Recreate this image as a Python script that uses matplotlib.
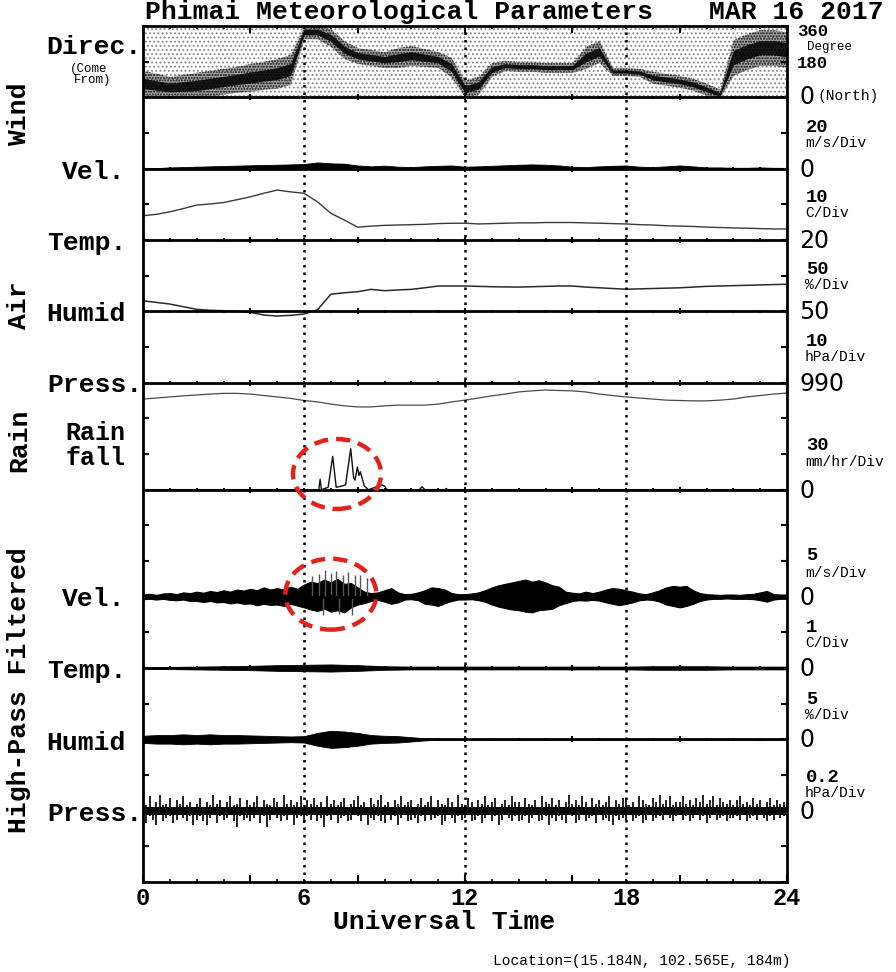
import numpy as np
import matplotlib
matplotlib.use("Agg")
import matplotlib.pyplot as plt
from matplotlib.patches import Ellipse

# ---------------- data ----------------
hours_half = np.arange(0, 24.01, 0.5)          # 0.5-h sampling grid
hours_qtr = np.arange(0, 24.01, 0.25)          # 0.25-h sampling grid
hours_eighth = np.arange(0, 24.01, 0.125)      # 0.125-h sampling grid
hours_one = np.arange(0, 25, 1)                # 1-h sampling grid

# Wind direction: centre of dense band and its half-width (deg), 0.5 h steps
dir_center = [70, 60, 50, 55, 60, 70, 80, 90, 100, 110, 120, 140,
              330, 330, 300, 240, 210, 200, 190, 200, 210, 200, 190, 150,
              40, 60, 140, 160, 155, 155, 150, 150, 150, 200, 230, 130,
              130, 125, 100, 90, 80, 65, 40, 15, 200, 230, 250, 250, 240]
dir_spread = [65, 60, 55, 60, 65, 65, 65, 65, 70, 70, 75, 75,
              35, 35, 45, 45, 40, 40, 40, 50, 50, 45, 40, 50,
              45, 45, 35, 25, 25, 25, 25, 25, 25, 55, 55, 20,
              20, 20, 30, 30, 30, 30, 30, 25, 90, 90, 90, 90, 90]

# Wind velocity envelope (m/s), 0.5 h steps
wind_vel = [0.3, 0.3, 0.7, 0.9, 1.1, 1.3, 1.5, 1.7, 1.9, 2.1, 2.2, 2.4,
            2.6, 3.5, 3.0, 2.8, 1.8, 1.3, 1.7, 1.1, 0.9, 1.3, 1.6, 1.8,
            1.1, 1.3, 1.6, 1.9, 2.2, 2.4, 2.2, 1.8, 1.1, 0.9, 1.3, 1.6,
            1.8, 1.1, 0.9, 1.3, 1.8, 1.3, 0.7, 0.7, 0.5, 0.5, 0.7, 0.5, 0.4]

# Air temperature (C), 0.5 h steps
air_temp = [26.8, 27.2, 27.9, 28.8, 29.8, 30.1, 30.5, 31.3, 32.1, 33.1, 34.0, 33.5,
            33.1, 30.7, 27.5, 25.6, 23.6, 23.9, 24.1, 24.2, 24.3, 24.4, 24.6, 24.7,
            24.7, 24.5, 24.6, 24.7, 24.8, 24.8, 24.9, 24.9, 24.9, 24.8, 24.7, 24.6,
            24.5, 24.3, 24.2, 24.0, 23.9, 23.8, 23.6, 23.5, 23.4, 23.3, 23.2, 23.1, 23.1]

# Relative humidity (%), 0.5 h steps
air_humid = [64.8, 62.5, 60.2, 56.5, 52.8, 51.5, 50.9, 50.0, 48.6, 44.8, 43.4, 44.4,
             46.2, 52.0, 74.0, 76.0, 77.5, 80.8, 78.9, 80.0, 80.8, 83.0, 85.5, 85.5,
             85.5, 85.0, 84.5, 84.2, 84.0, 84.5, 85.0, 85.5, 85.5, 84.0, 83.0, 82.0,
             81.0, 81.5, 82.0, 82.5, 83.0, 84.0, 85.0, 85.5, 86.0, 86.5, 87.0, 87.5, 88.0]

# Pressure (hPa), 0.5 h steps
air_press = [985.4, 985.7, 986.0, 986.3, 986.55, 986.8, 987.0, 987.0, 986.8, 986.4, 986.0, 985.6,
             985.0, 984.6, 984.0, 983.5, 983.2, 983.2, 983.5, 983.7, 983.7, 983.7, 984.0, 984.6,
             985.1, 985.7, 986.3, 986.8, 987.4, 987.7, 987.95, 987.8, 987.7, 987.4, 986.8, 986.4,
             986.0, 985.7, 985.4, 985.1, 985.0, 984.9, 984.9, 985.1, 985.4, 986.0, 986.4, 986.8, 987.1]

# Rainfall (mm/hr)
rain_t = [0.0, 6.3, 6.55, 6.6, 6.65, 6.9, 7.07, 7.2, 7.4, 7.55, 7.74, 7.85, 7.9, 7.99,
          8.05, 8.1, 8.25, 8.4, 8.8, 8.9, 9.0, 9.1, 10.3, 10.4, 10.5, 11.25, 11.3, 11.35, 24.0]
rain_v = [0, 0, 0, 8.7, 0, 2, 28, 2, 3, 4, 34.5, 10, 8, 19,
          12, 15, 3, 0, 3, 4, 3, 0, 0, 2.5, 0, 0, 1, 0, 0]

# High-pass filtered velocity: upper / lower excursions (m/s), 0.25 h steps
hp_vel_up = [0.3, 0.4, 0.25, 0.45, 0.5, 0.35, 0.6, 0.5, 0.7, 0.55, 0.8, 0.65,
             0.9, 0.7, 1.0, 0.85, 1.1, 0.9, 1.3, 1.0, 1.2, 1.0, 1.4, 1.1,
             1.7, 2.1, 1.9, 2.4, 2.0, 2.5, 1.8, 1.9, 1.3, 0.7, 0.5, 0.6,
             0.9, 1.2, 0.6, 0.35, 0.4, 0.6, 0.9, 1.3, 1.2, 1.0, 0.5, 0.35,
             0.35, 0.45, 0.6, 0.9, 1.3, 1.6, 1.8, 2.0, 2.2, 2.4, 2.1, 2.3,
             2.0, 1.6, 1.4, 0.7, 0.55, 0.45, 0.7, 0.5, 0.7, 1.0, 1.2, 1.1,
             0.9, 0.7, 0.45, 0.35, 0.6, 0.9, 1.3, 1.5, 1.4, 1.5, 0.9, 0.5,
             0.35, 0.3, 0.25, 0.3, 0.3, 0.25, 0.35, 0.4, 0.6, 0.8, 0.35, 0.3, 0.3]
hp_vel_dn = [0.35, 0.3, 0.4, 0.3, 0.45, 0.5, 0.4, 0.6, 0.6, 0.75, 0.6, 0.8,
             0.75, 0.95, 0.8, 1.0, 0.95, 1.2, 1.0, 1.15, 1.1, 1.3, 1.0, 1.25,
             1.5, 1.8, 2.0, 1.7, 2.1, 1.9, 2.2, 1.5, 1.1, 0.9, 0.6, 0.45,
             0.7, 1.0, 0.8, 0.4, 0.35, 0.5, 1.0, 1.1, 1.3, 0.9, 0.6, 0.4,
             0.4, 0.35, 0.5, 0.7, 1.1, 1.4, 1.6, 1.8, 1.9, 2.1, 2.2, 1.9,
             1.8, 1.7, 1.2, 0.9, 0.6, 0.5, 0.55, 0.45, 0.55, 0.8, 1.0, 1.2,
             1.0, 0.8, 0.5, 0.4, 0.45, 0.7, 1.1, 1.3, 1.5, 1.3, 1.0, 0.6,
             0.4, 0.3, 0.3, 0.25, 0.3, 0.3, 0.3, 0.35, 0.5, 0.7, 0.4, 0.3, 0.3]
hp_vel_spike_t = [6.3, 6.55, 6.7, 6.8, 7.0, 7.2, 7.3, 7.45, 7.65, 7.8, 7.9, 8.1, 8.35]
hp_vel_spike_v = [2.9, 3.2, -2.5, 3.8, 3.3, 3.6, -2.4, 3.0, 3.5, -2.6, 3.0, 3.1, 2.6]

# High-pass filtered temperature envelope (C), 1 h steps
hp_temp = [0.03, 0.03, 0.04, 0.05, 0.06, 0.08, 0.09, 0.10, 0.08, 0.05, 0.04, 0.04, 0.04,
           0.04, 0.04, 0.04, 0.04, 0.04, 0.04, 0.05, 0.05, 0.05, 0.04, 0.04, 0.04]

# High-pass filtered humidity envelope (%), 0.5 h steps
hp_humid = [0.5, 0.6, 0.6, 0.7, 0.6, 0.7, 0.6, 0.6, 0.55, 0.5, 0.45, 0.4,
            0.45, 0.9, 1.2, 1.1, 0.9, 0.6, 0.5, 0.45, 0.3, 0.15, 0.06, 0.06,
            0.06, 0.06, 0.06, 0.06, 0.06, 0.06, 0.06, 0.06, 0.06, 0.06, 0.06, 0.06,
            0.06, 0.06, 0.06, 0.06, 0.06, 0.06, 0.06, 0.06, 0.06, 0.06, 0.06, 0.06, 0.06]

# High-pass filtered pressure spikes (hPa), 0.125 h steps (upward / downward)
hp_press_up = [
    .06, .03, .08, .02, .05, .09, .03, .04, .07, .02, .06, .04, .08, .03, .05, .02,
    .04, .07, .02, .05, .03, .09, .04, .06, .02, .05, .08, .03, .04, .07, .02, .06,
    .03, .05, .08, .02, .06, .04, .03, .07, .05, .02, .09, .04, .06, .03, .05, .08,
    .02, .06, .04, .07, .03, .05, .02, .08, .04, .06, .03, .05, .07, .02, .04, .06,
    .08, .03, .05, .02, .07, .04, .06, .09, .03, .05, .02, .06, .04, .08, .03, .05,
    .06, .02, .04, .07, .03, .05, .08, .02, .06, .04, .03, .07, .05, .02, .09, .04,
    .03, .07, .05, .02, .06, .04, .08, .03, .05, .07, .02, .04, .06, .03, .08, .05,
    .05, .02, .07, .04, .03, .06, .02, .08, .05, .04, .07, .03, .06, .02, .05, .09,
    .04, .06, .03, .08, .05, .02, .07, .04, .06, .03, .05, .08, .02, .06, .04, .07,
    .07, .03, .05, .02, .08, .06, .04, .03, .07, .05, .09, .04, .06, .08, .03, .05,
    .05, .08, .04, .06, .03, .07, .05, .09, .04, .06, .08, .03, .07, .05, .04, .06,
    .03, .06, .08, .04, .05, .03, .07, .04, .06, .02, .05, .07, .03, .06, .04, .05,
    .04]
hp_press_dn = [
    .04, .07, .03, .05, .08, .02, .06, .04, .03, .07, .05, .02, .04, .06, .03, .08,
    .05, .03, .06, .08, .04, .02, .07, .03, .05, .04, .02, .06, .09, .03, .05, .04,
    .06, .04, .02, .07, .03, .09, .05, .02, .04, .06, .03, .05, .02, .08, .04, .03,
    .07, .03, .05, .02, .06, .04, .09, .03, .05, .02, .07, .04, .03, .06, .05, .02,
    .03, .06, .02, .08, .04, .05, .03, .06, .07, .02, .05, .03, .08, .04, .02, .06,
    .05, .04, .07, .03, .06, .02, .05, .04, .03, .08, .06, .02, .04, .07, .03, .05,
    .04, .02, .06, .05, .03, .07, .04, .02, .06, .03, .08, .05, .02, .04, .06, .03,
    .06, .05, .03, .07, .04, .02, .06, .05, .03, .08, .04, .06, .03, .05, .07, .02,
    .03, .07, .05, .02, .06, .04, .03, .07, .02, .05, .04, .06, .08, .03, .05, .04,
    .05, .02, .06, .04, .03, .07, .05, .02, .06, .04, .03, .05, .02, .04, .06, .03,
    .02, .05, .03, .06, .04, .02, .05, .03, .07, .04, .02, .05, .04, .03, .06, .04,
    .04, .03, .05, .02, .06, .04, .03, .05, .02, .04, .06, .03, .05, .02, .04, .03,
    .03]
hp_press_core = 0.022

# panel definitions: (baseline position in divisions, baseline value, units per division)
panels = {
    "dir": (22, 0.0, 180.0),
    "vel": (20, 0.0, 20.0),
    "temp": (18, 20.0, 10.0),
    "humid": (16, 50.0, 50.0),
    "press": (14, 990.0, 10.0),
    "rain": (11, 0.0, 30.0),
    "hpvel": (8, 0.0, 5.0),
    "hptemp": (6, 0.0, 1.0),
    "hphumid": (4, 0.0, 5.0),
    "hppress": (2, 0.0, 0.2),
}


def tr(name, v):
    b, v0, s = panels[name]
    return b + (np.asarray(v, dtype=float) - v0) / s


# ---------------- figure ----------------
W, H = 896, 972
fig = plt.figure(figsize=(W / 100, H / 100), dpi=100)
L, R, T, B = 143, 787, 26, 882
ax = fig.add_axes([L / W, 1 - B / H, (R - L) / W, (B - T) / H])
ax.set_xlim(0, 24)
ax.set_ylim(0, 24)

MONO = ["Liberation Mono", "DejaVu Sans Mono"]
SANS = ["DejaVu Sans"]

# wind direction: background stipple and dense band
plt.rcParams["hatch.linewidth"] = 0.9
ax.fill_between([0, 24], [22, 22], [24, 24], facecolor="none", edgecolor="#8c8c8c",
                hatch="....", linewidth=0)
dc = np.asarray(dir_center, float)
ds = np.asarray(dir_spread, float)
ax.fill_between(hours_half, tr("dir", np.clip(dc - ds, 0, 360)),
                tr("dir", np.clip(dc + ds, 0, 360)), color="black", alpha=0.35, linewidth=0)
ax.fill_between(hours_half, tr("dir", np.clip(dc - ds, 0, 360)),
                tr("dir", np.clip(dc + ds, 0, 360)), facecolor="none", edgecolor="#1a1a1a",
                hatch="......", linewidth=0)
ax.fill_between(hours_half, tr("dir", np.clip(dc - ds * 0.4, 0, 360)),
                tr("dir", np.clip(dc + ds * 0.4, 0, 360)), color="black", alpha=0.85,
                linewidth=0)

# wind velocity
ax.fill_between(hours_half, tr("vel", 0), tr("vel", wind_vel), color="black", linewidth=0.6,
                edgecolor="black")

# air temperature / humidity / pressure
ax.plot(hours_half, tr("temp", air_temp), color="#3a3a3a", lw=1.0)
ax.plot(hours_half, tr("humid", air_humid), color="#2a2a2a", lw=1.1)
ax.plot(hours_half, tr("press", air_press), color="#4a4a4a", lw=0.9)

# rain
ax.plot(rain_t, tr("rain", rain_v), color="#111111", lw=1.0)

# high-pass velocity
hvu = np.asarray(hp_vel_up, float)
hvd = np.asarray(hp_vel_dn, float)
ax.fill_between(hours_qtr, tr("hpvel", -hvd), tr("hpvel", hvu), color="black",
                linewidth=0.8, edgecolor="black")
ax.vlines(hp_vel_spike_t, tr("hpvel", 0), tr("hpvel", hp_vel_spike_v), color="#555555", lw=1.0)

# high-pass temperature
htv = np.asarray(hp_temp, float)
ax.fill_between(hours_one, tr("hptemp", -htv), tr("hptemp", htv), color="black", linewidth=0.6,
                edgecolor="black")

# high-pass humidity
hh = np.asarray(hp_humid, float)
ax.fill_between(hours_half, tr("hphumid", -hh), tr("hphumid", hh), color="black", linewidth=0.6,
                edgecolor="black")

# high-pass pressure
up = np.asarray(hp_press_up, float)
dn = np.asarray(hp_press_dn, float)
ax.vlines(hours_eighth, tr("hppress", -dn), tr("hppress", up), color="#111111", lw=1.3)
ax.fill_between([0, 24], tr("hppress", -hp_press_core), tr("hppress", hp_press_core),
                color="black", linewidth=0)

# baselines with crossing hour ticks
for name in panels:
    b = panels[name][0]
    ax.axhline(b, color="black", lw=2.0, zorder=5)
    for h in range(1, 24):
        d = 0.085 if h % 4 == 0 else 0.045
        ax.plot([h, h], [b - d, b + d], color="black", lw=1.5, zorder=5,
                solid_capstyle="butt")

# dotted verticals
for h in (6, 12, 18):
    ax.axvline(h, color="black", lw=1.8, ls=(0, (1.0, 2.0)), zorder=6)

# red dashed ellipses (annotation marks)
for (cx, cy, w, hgt) in [(7.23, 11.44, 3.28, 1.96), (7.0, 8.07, 3.39, 1.99)]:
    ax.add_patch(Ellipse((cx, cy), w, hgt, fill=False, edgecolor="#e3221c", lw=3.2,
                         ls=(0, (3.2, 1.8)), zorder=7))

# axes styling
for sp in ax.spines.values():
    sp.set_linewidth(2.0)
    sp.set_zorder(8)
ax.set_yticks(np.arange(0, 25, 1))
ax.set_yticklabels([])
ax.tick_params(axis="y", which="both", direction="in", left=True, right=True, length=4,
               width=1.5)
ax.set_xticks([0, 4, 8, 12, 16, 20, 24])
ax.set_xticks(np.arange(0, 25, 1), minor=True)
ax.set_xticklabels([])
ax.tick_params(axis="x", which="major", direction="in", top=True, bottom=True, length=5,
               width=1.5)
ax.tick_params(axis="x", which="minor", direction="in", top=True, bottom=True, length=2.5,
               width=1.2)


def ftext(x, y, s, **kw):
    fig.text(x / W, 1 - y / H, s, **kw)


# title
ftext(145, 12, "Phimai Meteorological Parameters", family=MONO, weight="bold", fontsize=19,
      va="center", ha="left")
ftext(884, 12, "MAR 16 2017", family=MONO, weight="bold", fontsize=19, va="center", ha="right")

# left labels
lab = dict(family=MONO, weight="bold", fontsize=19, va="center", ha="left")
ftext(46, 47, "Direc.", **lab)
ftext(70, 69, "(Come", family=MONO, fontsize=9, va="center", ha="left")
ftext(74, 80, "From)", family=MONO, fontsize=9, va="center", ha="left")
ftext(62, 172, "Vel.", **lab)
ftext(47, 243, "Temp.", **lab)
ftext(46, 314, "Humid", **lab)
ftext(47, 385, "Press.", **lab)
rf = dict(family=MONO, weight="bold", fontsize=18, va="center", ha="left")
ftext(65, 433, "Rain", **rf)
ftext(66, 458, "fall", **rf)
ftext(62, 599, "Vel.", **lab)
ftext(47, 671, "Temp.", **lab)
ftext(46, 743, "Humid", **lab)
ftext(47, 814, "Press.", **lab)

grp = dict(family=MONO, weight="bold", fontsize=19, va="center", ha="center", rotation=90)
ftext(19, 114, "Wind", **grp)
ftext(19, 305, "Air", **grp)
ftext(19, 440, "Rain", **grp)
ftext(19, 690, "High-Pass Filtered", **grp)

# right labels
big = dict(family=SANS, fontsize=17, va="center", ha="left")
mid = dict(family=MONO, weight="bold", fontsize=13.5, va="center", ha="left")
sml = dict(family=MONO, fontsize=10.5, va="center", ha="left")

ftext(797, 31, "360", family=MONO, weight="bold", fontsize=12.5, va="center", ha="left")
ftext(807, 47, "Degree", family=MONO, fontsize=9, va="center", ha="left")
ftext(797, 64, "180", family=MONO, weight="bold", fontsize=12.5, va="center", ha="left")
ftext(799, 97, "0", **big)
ftext(817, 96, "(North)", **sml)

right_entries = [
    # (baseline_y, div value, div_y, unit, unit_y, baseline label)
    (168.7, "20", 127, "m/s/Div", 143, "0"),
    (240.0, "10", 198, "C/Div", 213, "20"),
    (311.3, "50", 270, "%/Div", 285, "50"),
    (382.7, "10", 341, "hPa/Div", 357, "990"),
    (489.7, "30", 445, "mm/hr/Div", 462, "0"),
    (596.7, "5", 556, "m/s/Div", 573, "0"),
    (668.0, "1", 627, "C/Div", 643, "0"),
    (739.3, "5", 699, "%/Div", 715, "0"),
    (810.7, "0.2", 777, "hPa/Div", 793, "0"),
]
for by, dv, dy, un, uy, bl in right_entries:
    ftext(806, dy, dv, **mid)
    ftext(805, uy, un, **sml)
    ftext(799, by + 1, bl, **big)

# x tick labels and axis title
for h in (0, 6, 12, 18, 24):
    ax.text(h, -0.45, str(h), transform=ax.transData, family=MONO, weight="bold",
            fontsize=17, ha="center", va="center")
ftext(444, 922, "Universal Time", family=MONO, weight="bold", fontsize=19, ha="center",
      va="center")
ftext(790, 961, "Location=(15.184N, 102.565E, 184m)", family=MONO, fontsize=10.5,
      ha="right", va="center")

fig.savefig("out.png", dpi=100, facecolor="white")
